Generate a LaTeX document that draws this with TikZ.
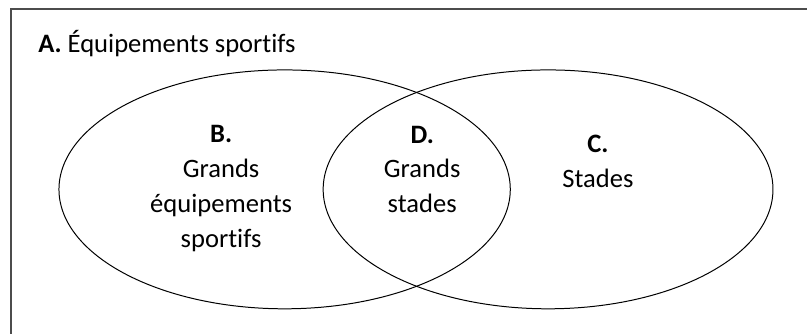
\documentclass[tikz,border=0pt]{standalone}
\usepackage{fontspec}
\setmainfont{Carlito}[Ligatures=NoCommon]
\usetikzlibrary{shapes.geometric}
\begin{document}
\begin{tikzpicture}[line width=0.75pt,
    setlabel/.style={font=\fontsize{20}{26.25}\selectfont, align=center, inner sep=0pt, anchor=base},
    setshape/.style={draw, ellipse, inner sep=0pt}]
  \clip (0,0) rectangle (21.35,8.81);
  \useasboundingbox (0,0) rectangle (21.35,8.81);
  \draw[line width=1.1pt, black!70] (0.29,-1) rectangle (22,8.57);
  \node[setshape, minimum width=11.94cm, minimum height=6.32cm] (left) at (7.53,3.80) {};
  \node[setshape, minimum width=11.90cm, minimum height=6.32cm] (right) at (14.50,3.80) {};
  % base anchor sits on the last line
  \node[setlabel, anchor=base west] (A) at (1.00,7.41) {\textbf{A.} Équipements sportifs};
  \node[setlabel] (B) at (5.85,2.27) {\textbf{B.}\\Grands\\équipements\\sportifs};
  \node[setlabel] (D) at (11.17,3.18) {\textbf{D.}\\Grands\\stades};
  \node[setlabel] (C) at (15.82,3.84) {\textbf{C.}\\Stades};
\end{tikzpicture}
\end{document}
